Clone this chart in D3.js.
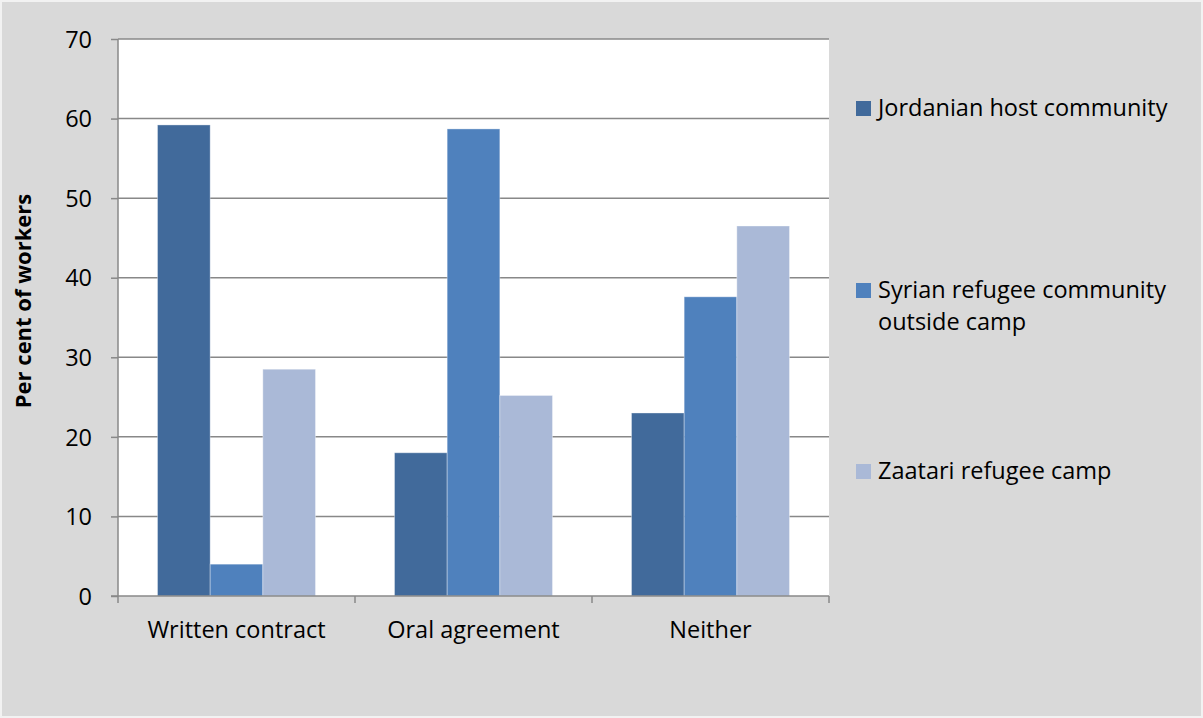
<!DOCTYPE html>
<html>
<head>
<meta charset="utf-8">
<script src="https://cdn.jsdelivr.net/npm/d3@7"></script>
<style>
html,body{margin:0;padding:0;background:#fff;}
svg{display:block;}
text{font-family:"Open Sans","DejaVu Sans",sans-serif;fill:#000;}
</style>
</head>
<body>
<svg id="chart" width="1203" height="718"></svg>
<script>
const categories = ["Written contract", "Oral agreement", "Neither"];
const seriesNames = ["Jordanian host community", "Syrian refugee community outside camp", "Zaatari refugee camp"];
const legendLines = [["Jordanian host community"], ["Syrian refugee community", "outside camp"], ["Zaatari refugee camp"]];
const jordanian = [59.2, 18.0, 23.0];
const syrian = [4.0, 58.7, 37.6];
const zaatari = [28.5, 25.2, 46.5];
const yTicks = [0, 10, 20, 30, 40, 50, 60, 70];
const colors = ["#416A9B", "#4F81BD", "#AAB9D7"];

const series = [jordanian, syrian, zaatari];
const svg = d3.select("#chart");
const W = 1203, H = 718;
const FS = "23.5px";

svg.append("rect").attr("x",0).attr("y",0).attr("width",W).attr("height",H).attr("fill","#f2f2f2");
svg.append("rect").attr("x",2).attr("y",2).attr("width",W-4).attr("height",H-4).attr("fill","#d9d9d9");

const pLeft = 118, pRight = 829, pTop = 39, pBottom = 596;
svg.append("rect").attr("x",pLeft).attr("y",pTop).attr("width",pRight-pLeft).attr("height",pBottom-pTop).attr("fill","#fff");

const y = d3.scaleLinear().domain([0,70]).range([pBottom, pTop]);
const x0 = d3.scaleBand().domain(categories).range([pLeft, pRight]).paddingInner(0).paddingOuter(0);
const x1 = d3.scaleBand().domain(d3.range(3)).range([x0.bandwidth()/6, x0.bandwidth()*5/6]).padding(0);

// gridlines
svg.append("g").selectAll("line").data(yTicks.filter(d=>d>0)).join("line")
  .attr("x1", pLeft).attr("x2", pRight)
  .attr("y1", d=>y(d)).attr("y2", d=>y(d))
  .attr("stroke","#888").attr("stroke-width",1.5);

// bars
const g = svg.append("g");
categories.forEach((c, ci) => {
  series.forEach((s, si) => {
    g.append("rect")
      .attr("x", x0(c) + x1(si))
      .attr("y", y(s[ci]))
      .attr("width", x1.bandwidth())
      .attr("height", y(0) - y(s[ci]))
      .attr("fill", colors[si])
      .attr("stroke", "rgba(255,255,255,0.35)")
      .attr("stroke-width", 1);
  });
});

// y axis
const yAxis = d3.axisLeft(y).tickValues(yTicks).tickSize(7).tickPadding(19);
const ya = svg.append("g").attr("transform", `translate(${pLeft},0)`).call(yAxis);
ya.select(".domain").attr("stroke","#888").attr("stroke-width",1.5).attr("d", `M0,${pTop}V${pBottom}`);
ya.selectAll(".tick line").attr("stroke","#888").attr("stroke-width",1.5);
ya.selectAll(".tick text").style("font-family",'"Open Sans",sans-serif').style("font-size",FS).attr("fill","#000").attr("dy","0.35em");

// x axis
const xa = svg.append("g").attr("transform", `translate(0,${pBottom})`);
xa.append("line").attr("x1",pLeft-7).attr("x2",pRight).attr("y1",0).attr("y2",0).attr("stroke","#888").attr("stroke-width",1.5);
const bounds = categories.map(c => x0(c)).concat([x0(categories[2]) + x0.bandwidth()]);
xa.selectAll("line.tk").data(bounds).join("line").attr("class","tk")
  .attr("x1", d=>d).attr("x2", d=>d).attr("y1",0).attr("y2",7)
  .attr("stroke","#888").attr("stroke-width",1.5);
xa.selectAll("text").data(categories).join("text")
  .attr("x", d => x0(d) + x0.bandwidth()/2)
  .attr("y", 42)
  .attr("text-anchor","middle")
  .style("font-size",FS)
  .text(d=>d);

// y label
svg.append("text")
  .attr("transform", `translate(31,301) rotate(-90)`)
  .attr("text-anchor","middle")
  .style("font-size","22px").style("font-weight","bold")
  .text("Per cent of workers");

// legend
const legendY = [116, 298, 479];
legendLines.forEach((lines, i) => {
  svg.append("rect").attr("x",856).attr("y",legendY[i]-15).attr("width",15).attr("height",15).attr("fill",colors[i]);
  lines.forEach((t, j) => {
    svg.append("text").attr("x",878).attr("y",legendY[i] + j*32)
      .style("font-size",FS).text(t);
  });
});
</script>
</body>
</html>
